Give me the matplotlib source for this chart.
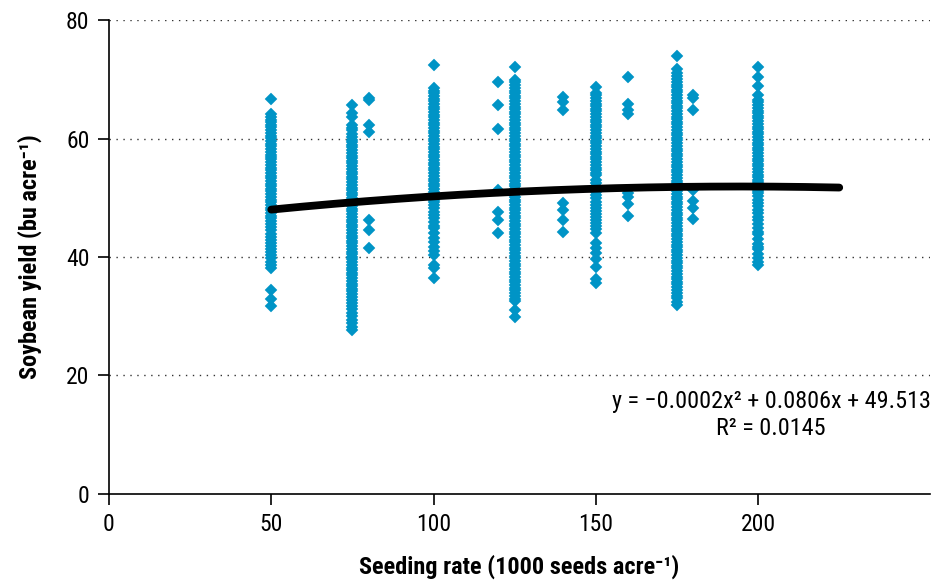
import numpy as np
import matplotlib
matplotlib.use("Agg")
import matplotlib.pyplot as plt
from matplotlib import font_manager as fm

# seeding rate (1000 seeds/acre) -> observed yields (bu/acre)
rate_50 = [66.6, 64.1, 63.7, 63.2, 62.8, 62.3, 61.9, 61.4, 61.0, 60.4, 60.1, 59.6,
           59.1, 58.7, 58.3, 57.8, 57.3, 56.9, 56.5, 56.0, 55.5, 55.1, 54.7, 54.2,
           53.7, 53.3, 52.9, 52.4, 51.9, 51.5, 51.1, 50.6, 50.1, 49.7, 49.3, 48.8,
           48.3, 47.9, 47.5, 47.0, 46.5, 46.1, 45.6, 45.0, 44.5, 43.9, 43.4, 42.9,
           42.3, 41.9, 41.4, 40.8, 40.3, 39.8, 39.2, 38.7, 38.2, 34.5, 32.9, 31.7]
rate_75 = [65.7, 64.3, 63.6, 62.3, 61.8, 61.4, 60.7, 60.3, 59.8, 59.4, 58.9, 58.5,
           58.0, 57.6, 57.1, 56.7, 56.2, 55.8, 55.3, 54.9, 54.4, 54.0, 53.5, 53.1,
           52.6, 52.2, 51.7, 51.3, 50.8, 50.4, 49.9, 49.5, 49.0, 48.6, 48.1, 47.7,
           47.2, 46.8, 46.3, 45.9, 45.4, 45.0, 44.5, 44.1, 43.6, 43.2, 42.7, 42.3,
           41.8, 41.4, 40.9, 40.5, 40.0, 39.6, 39.1, 38.7, 38.2, 37.8, 37.3, 36.9,
           36.4, 36.0, 35.5, 35.1, 34.6, 34.2, 33.7, 33.3, 32.8, 32.3, 31.8, 31.2,
           30.6, 30.0, 29.4, 28.8, 28.2, 27.6]
rate_80 = [66.9, 66.5, 62.3, 61.1, 46.2, 44.6, 41.5]
rate_100 = [72.4, 68.5, 68.1, 67.6, 67.2, 66.7, 66.3, 65.8, 65.4, 64.9, 64.5, 64.0,
            63.6, 63.1, 62.7, 62.2, 61.8, 61.3, 60.9, 60.4, 60.0, 59.5, 59.1, 58.6,
            58.2, 57.7, 57.3, 56.8, 56.4, 55.9, 55.5, 55.0, 54.6, 54.1, 53.7, 53.2,
            52.8, 52.3, 51.9, 51.4, 51.0, 50.5, 50.1, 49.6, 49.2, 48.7, 48.2, 47.6,
            47.1, 46.5, 45.9, 45.3, 44.9, 44.1, 43.2, 42.5, 41.7, 41.0, 40.3, 38.6,
            38.1, 36.5]
rate_120 = [69.5, 65.7, 61.6, 51.3, 47.6, 46.2, 44.1]
rate_125 = [72.0, 69.9, 69.5, 69.0, 68.6, 68.1, 67.7, 67.2, 66.8, 66.3, 65.9, 65.4,
            65.0, 64.5, 64.1, 63.6, 63.2, 62.7, 62.3, 61.8, 61.4, 60.9, 60.5, 60.0,
            59.6, 59.1, 58.7, 58.2, 57.8, 57.3, 56.9, 56.4, 56.0, 55.5, 55.1, 54.6,
            54.2, 53.7, 53.3, 52.8, 52.4, 51.9, 51.5, 51.0, 50.6, 50.1, 49.7, 49.2,
            48.8, 48.3, 47.9, 47.4, 47.0, 46.5, 46.1, 45.6, 45.2, 44.7, 44.3, 43.8,
            43.4, 42.9, 42.5, 42.0, 41.6, 41.1, 40.7, 40.2, 39.8, 39.3, 38.9, 38.4,
            38.0, 37.5, 37.1, 36.6, 36.2, 35.7, 35.3, 34.8, 34.4, 33.9, 33.4, 32.9,
            32.5, 31.1, 29.8]
rate_140 = [67.0, 66.2, 64.8, 49.1, 47.9, 46.2, 44.2]
rate_150 = [68.7, 67.7, 67.3, 66.8, 66.4, 65.9, 65.5, 65.0, 64.6, 64.1, 63.7, 63.2,
            62.8, 62.3, 61.9, 61.4, 61.0, 60.5, 60.1, 59.6, 59.2, 58.7, 58.3, 57.8,
            57.4, 56.9, 56.5, 56.0, 55.6, 55.1, 54.7, 54.2, 53.8, 53.0, 52.5, 52.0,
            51.5, 51.0, 50.5, 50.0, 49.3, 48.8, 48.3, 47.8, 47.3, 46.8, 46.3, 45.8,
            45.3, 44.7, 44.0, 42.4, 41.5, 40.7, 39.7, 38.3, 36.3, 35.6]
rate_160 = [70.3, 65.8, 64.8, 64.1, 50.8, 50.1, 48.9, 46.9]
rate_175 = [74.0, 71.8, 71.0, 70.5, 70.0, 69.6, 69.1, 68.7, 68.2, 67.8, 67.3, 66.9,
            66.4, 66.0, 65.5, 65.1, 64.6, 64.2, 63.7, 63.3, 62.8, 62.4, 61.9, 61.5,
            61.0, 60.6, 60.1, 59.7, 59.2, 58.8, 58.3, 57.9, 57.4, 57.0, 56.5, 56.1,
            55.6, 55.2, 54.7, 54.3, 53.8, 53.4, 52.9, 52.5, 52.0, 51.6, 51.1, 50.7,
            50.2, 49.8, 49.3, 48.9, 48.4, 48.0, 47.5, 47.1, 46.6, 46.2, 45.7, 45.3,
            44.8, 44.4, 43.9, 43.5, 43.0, 42.6, 42.1, 41.7, 41.2, 40.8, 40.3, 39.9,
            39.4, 39.0, 38.5, 38.1, 37.6, 37.2, 36.7, 36.3, 35.8, 35.4, 34.9, 34.5,
            34.0, 33.5, 33.0, 32.4, 31.9]
rate_180 = [67.3, 66.8, 64.8, 51.3, 49.5, 48.3, 46.4]
rate_200 = [72.0, 70.3, 68.9, 67.3, 66.5, 66.1, 65.6, 65.2, 64.7, 64.3, 63.8, 63.4,
            62.9, 62.5, 62.0, 61.6, 61.1, 60.7, 60.2, 59.8, 59.3, 58.9, 58.4, 58.0,
            57.5, 57.1, 56.6, 56.2, 55.7, 55.3, 54.8, 54.4, 53.9, 53.5, 53.0, 52.6,
            52.1, 51.7, 51.2, 50.8, 50.3, 49.7, 49.1, 48.6, 48.0, 47.5, 46.8, 46.2,
            45.6, 44.9, 44.3, 43.9, 43.0, 42.2, 41.7, 41.3, 40.5, 39.8, 39.2, 38.6]

rates = [50, 75, 80, 100, 120, 125, 140, 150, 160, 175, 180, 200]
yields = [rate_50, rate_75, rate_80, rate_100, rate_120, rate_125, rate_140,
          rate_150, rate_160, rate_175, rate_180, rate_200]

# quadratic trend drawn over the plotted range
trend_coef = [-0.000187, 0.0727, 44.83]
trend_range = [50, 225]

eq_text = "y = \u22120.0002x\u00b2 + 0.0806x + 49.513\nR\u00b2 = 0.0145"

names = {f.name for f in fm.fontManager.ttflist}
base = "DejaVu Sans"
for cand in ["Roboto Condensed", "Liberation Sans Narrow", "Archivo Narrow",
             "PT Sans Narrow", "Barlow Semi Condensed"]:
    if cand in names:
        base = cand
        break
plt.rcParams["font.family"] = [base, "DejaVu Sans"]

BLUE = "#0094c6"

fig = plt.figure(figsize=(9.46, 5.8), dpi=100)
ax = fig.add_axes([0.1152, 0.1483, 0.868, 0.8172])

xs = np.concatenate([[r] * len(v) for r, v in zip(rates, yields)])
ys = np.concatenate(yields)
ax.plot(xs, ys, ls="none", marker="D", ms=6.4, color=BLUE, mec=BLUE, mew=0.3, zorder=2)

tx = np.linspace(trend_range[0], trend_range[1], 200)
ax.plot(tx, np.polyval(trend_coef, tx), color="black", lw=5.6,
        solid_capstyle="round", zorder=3)

ax.set_xlim(0, 253)
ax.set_ylim(0, 80)
ax.set_xticks([0, 50, 100, 150, 200])
ax.set_yticks([0, 20, 40, 60, 80])
for y in [20, 40, 60, 80]:
    ax.axhline(y, color="#333333", lw=1.0, ls=(0, (1, 4)), zorder=1)

for side in ["top", "right"]:
    ax.spines[side].set_visible(False)
for side in ["left", "bottom"]:
    ax.spines[side].set_linewidth(1.2)
ax.tick_params(direction="out", length=8, width=1.2, labelsize=17, pad=6)

ax.set_xlabel("Seeding rate (1000 seeds acre\u207b\u00b9)", fontsize=17.5,
              fontweight="bold", labelpad=13)
ax.set_ylabel("Soybean yield (bu acre\u207b\u00b9)", fontsize=17.5,
              fontweight="bold", labelpad=17)

ax.text(204, 13.3, eq_text, ha="center", va="center", fontsize=17.4,
        linespacing=1.2, transform=ax.transData)

fig.savefig("out.png", dpi=100)
